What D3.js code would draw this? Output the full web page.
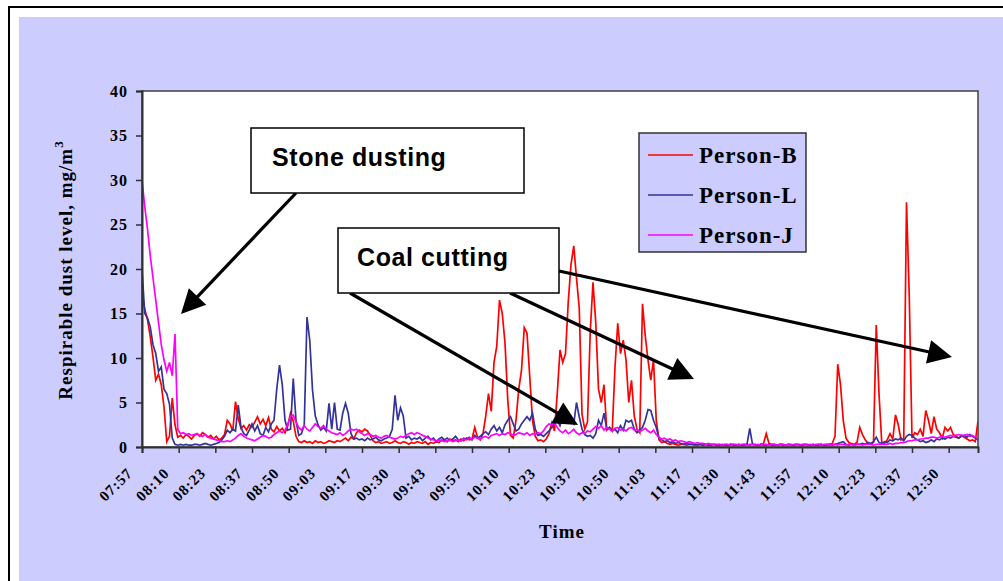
<!DOCTYPE html>
<html>
<head>
<meta charset="utf-8">
<script src="https://cdn.jsdelivr.net/npm/d3@7"></script>
<style>
  html, body { margin: 0; padding: 0; background: #ffffff; }
  svg { display: block; }
</style>
</head>
<body>
<svg id="chart" width="1003" height="581"></svg>
<script>
// Readings are logged once per minute, starting at 07:57.
const startTime = [7, 57];
const sampleMinutes = 1;

const seriesNames = ["Person-B", "Person-L", "Person-J"];
const seriesColors = ["#ff0000", "#333399", "#ff00ff"];

const personB = [
  17, 15.5, 14.3, 12.4, 10.1, 7.5, 8.2, 7, 4.5, 0.6,
  1.2, 5.5, 2.5, 1.1, 1.3, 1.0, 1.4, 1.2, 0.9, 1.3,
  1.5, 1.2, 1.6, 1.4, 1.1, 1.3, 0.9, 1.2, 0.8, 1.0,
  1.4, 3.0, 2.6, 1.8, 5.1, 3.2, 2.1, 2.4, 1.9, 2.5,
  2.2, 2.8, 3.4, 2.6, 3.1, 2.4, 3.3, 2.0, 1.7, 2.3,
  1.8, 2.1, 1.6, 2.4, 3.8, 2.9, 1.2, 0.6, 0.5, 0.7,
  0.5, 0.6, 0.4, 0.7, 0.5, 0.6, 0.4, 0.5, 0.7, 0.6,
  0.5, 0.7, 0.6, 0.8, 1.0, 0.7, 1.1, 0.9, 1.6, 1.9,
  1.7, 2.0, 1.8, 1.3, 0.7, 0.5, 0.6, 0.4, 0.5, 0.6,
  0.4, 0.5, 0.7, 0.5, 0.4, 0.6, 0.5, 0.3, 0.5, 0.4,
  0.6, 0.5, 0.4, 0.6, 0.3, 0.5, 0.4, 0.6, 0.5, 0.8,
  0.7, 0.6, 0.9, 0.7, 0.8, 0.6, 0.9, 0.7, 1.0, 0.8,
  0.9, 2.2, 1.1, 0.8, 1.5, 3.5, 6.0, 4.0, 9.5, 11.3,
  16.5, 15.0, 11.7, 5.3, 1.3, 1.0, 3.0, 6.5, 8.6, 13.4,
  12.8, 7.9, 3.0, 1.2, 0.7, 0.8, 0.6, 0.9, 1.5, 2.7,
  1.8, 6.0, 10.9, 9.5, 10.5, 16.3, 20.5, 22.6, 19.0, 15.6,
  3.7, 2.0, 2.8, 13.0, 18.5, 14.0, 6.5, 5.0, 7.0, 1.9,
  2.2, 1.8, 9.0, 13.9, 10.5, 12.0, 9.8, 5.0, 7.5, 3.5,
  2.0, 1.6, 16.1, 12.5, 9.8, 7.5, 9.8, 3.0, 0.8, 0.5,
  0.6, 0.4, 0.3, 0.4, 0.3, 0.2, 0.3, 0.3, 0.2, 0.3,
  0.3, 0.2, 0.3, 0.3, 0.2, 0.3, 0.2, 0.3, 0.3, 0.2,
  0.3, 0.2, 0.3, 0.2, 0.3, 0.3, 0.2, 0.3, 0.2, 0.3,
  0.3, 0.2, 0.3, 0.3, 0.2, 0.3, 0.4, 1.5, 0.4, 0.3,
  0.3, 0.2, 0.3, 0.3, 0.2, 0.3, 0.3, 0.2, 0.3, 0.3,
  0.2, 0.3, 0.3, 0.2, 0.3, 0.2, 0.3, 0.3, 0.2, 0.3,
  0.3, 0.4, 1.2, 9.3, 7.0, 3.0, 1.0, 0.5, 0.4, 0.3,
  0.5, 2.2, 1.4, 0.8, 0.4, 0.3, 0.5, 13.7, 6.0, 0.5,
  0.4, 0.8, 1.5, 0.9, 3.6, 2.5, 0.8, 0.9, 27.5, 17.0,
  1.0, 1.6, 1.4, 2.0, 1.2, 4.1, 3.0, 1.5, 3.4, 2.0,
  1.6, 1.0, 2.2, 1.8, 2.2, 1.4, 1.2, 1.0, 1.3, 1.1,
  0.9, 0.7, 0.8, 0.6, 2.9
];

const personL = [
  20, 15, 14.5, 13.5, 11.5, 10.5, 8.5, 9.0, 6.5, 6.0,
  4.8, 1.0, 0.3, 0.2, 0.3, 0.2, 0.3, 0.2, 0.2, 0.3,
  0.3, 0.2, 0.3, 0.4, 0.3, 0.2, 0.3, 0.4, 0.5, 0.8,
  1.2, 1.9, 1.6, 2.0, 1.8, 4.7, 2.2, 1.5, 1.3, 1.9,
  2.6, 1.8, 2.4, 1.5, 1.3, 2.2, 1.7, 2.6, 3.0, 6.5,
  9.2, 7.0, 3.0, 1.9, 2.0, 7.7, 3.0, 1.3, 1.5, 2.5,
  14.6, 12.0, 6.4, 3.5, 2.5, 1.9, 2.2, 1.8, 4.9, 2.0,
  5.0, 2.0, 1.9, 3.8, 4.9, 3.8, 1.5, 0.9, 1.0, 0.8,
  0.9, 0.7, 1.0, 0.8, 0.9, 1.1, 0.8, 0.7, 0.9, 1.0,
  1.2, 2.0, 5.8, 3.0, 4.4, 3.5, 1.0, 1.2, 0.8, 1.0,
  0.9, 1.1, 0.7, 1.0, 1.2, 0.8, 1.0, 0.6, 0.9, 1.1,
  0.8, 1.0, 0.7, 0.9, 1.2, 0.8, 0.7, 1.0, 0.9, 1.1,
  0.8, 1.3, 1.0, 1.2, 1.5, 1.7, 1.4, 2.0, 2.4, 1.8,
  2.2, 1.6, 2.5, 3.0, 3.4, 2.6, 1.8, 2.0, 2.6, 3.0,
  3.4, 3.0, 3.8, 2.0, 1.3, 1.4, 1.2, 1.5, 1.8, 2.2,
  2.6, 3.0, 2.4, 3.4, 2.8, 3.7, 3.0, 2.6, 5.0, 3.4,
  2.0, 1.4, 1.2, 1.3, 1.0, 1.5, 3.0, 2.4, 3.8, 2.0,
  2.2, 1.8, 2.0, 1.6, 2.4, 1.9, 3.0, 2.8, 3.0, 2.0,
  1.6, 1.9, 2.2, 3.0, 4.2, 4.1, 3.0, 2.2, 1.0, 0.8,
  0.6, 0.7, 0.5, 0.6, 0.4, 0.5, 0.4, 0.3, 0.4, 0.3,
  0.3, 0.3, 0.2, 0.3, 0.2, 0.3, 0.2, 0.2, 0.3, 0.2,
  0.2, 0.3, 0.2, 0.2, 0.3, 0.2, 0.2, 0.3, 0.2, 0.2,
  0.3, 2.1, 0.3, 0.2, 0.2, 0.3, 0.2, 0.2, 0.3, 0.2,
  0.2, 0.2, 0.3, 0.2, 0.2, 0.3, 0.2, 0.2, 0.3, 0.2,
  0.2, 0.3, 0.2, 0.2, 0.3, 0.2, 0.2, 0.3, 0.2, 0.2,
  0.3, 0.2, 0.3, 0.4, 0.5, 0.6, 0.3, 0.2, 0.3, 0.2,
  0.3, 0.3, 0.4, 0.3, 0.5, 0.4, 0.6, 1.1, 0.5, 0.4,
  0.6, 0.5, 0.8, 0.7, 0.9, 0.8, 1.0, 0.7, 1.2, 1.4,
  1.3, 1.0, 0.8, 0.6, 0.7, 0.5, 0.6, 0.8, 0.6, 0.9,
  0.8, 1.0, 0.9, 1.1, 1.0, 1.2, 1.1, 1.0, 1.2, 1.3,
  1.1, 1.4, 1.2, 1.0, 0.8
];

const personJ = [
  30, 27, 24.5, 21.5, 19, 16.5, 14, 11.5, 9.8, 8.5,
  9.5, 8.0, 12.7, 2.0, 1.5, 1.6, 1.4, 1.5, 1.3, 1.4,
  1.5, 1.3, 1.2, 1.4, 1.1, 1.0, 0.9, 0.8, 0.7, 0.6,
  0.6, 0.7, 0.6, 0.8, 1.0, 1.3, 1.5, 1.2, 1.0, 0.9,
  0.8, 0.7, 0.9, 1.1, 1.3, 1.2, 1.0, 1.1, 1.4, 1.6,
  1.8, 1.6, 1.9, 2.5, 3.5, 3.6, 2.8, 2.2, 1.9, 2.4,
  2.0, 1.8, 2.2, 2.6, 2.3, 2.1, 2.4, 2.0, 1.8, 1.6,
  1.5, 1.4, 1.6, 1.3, 1.5, 1.8, 2.0, 1.9, 2.0, 1.7,
  1.5, 1.3, 1.5, 1.4, 1.2, 1.3, 1.1, 1.0, 1.2, 1.3,
  1.1, 1.0, 0.9, 1.0, 1.2, 1.1, 1.3, 1.5, 1.6, 1.4,
  1.6, 1.5, 1.3, 1.2, 1.0, 0.9, 0.8, 0.7, 0.8, 0.7,
  0.6, 0.7, 0.8, 0.6, 0.7, 0.8, 0.7, 0.9, 0.8, 1.0,
  0.9, 1.1, 1.0, 0.9, 1.1, 1.2, 1.0, 1.3, 1.4, 1.5,
  1.3, 1.5, 1.4, 1.6, 1.5, 1.3, 1.4, 1.6, 1.5, 1.4,
  1.6, 1.3, 1.5, 1.4, 1.6, 1.5, 1.8, 2.3, 2.6, 2.5,
  2.7, 2.2, 1.8, 1.6, 1.9, 1.5, 1.7, 2.0, 1.6, 1.4,
  1.6, 1.5, 1.8, 1.7, 2.0, 2.3, 2.1, 2.4, 1.9, 2.2,
  2.0, 1.8, 2.1, 2.2, 1.9, 2.0, 1.8, 2.1, 2.2, 1.9,
  2.0, 1.7, 1.9, 2.1, 1.8, 1.6, 1.9, 1.4, 1.1, 0.9,
  1.0, 0.8, 0.9, 0.7, 0.8, 0.6, 0.7, 0.6, 0.5, 0.6,
  0.5, 0.4, 0.5, 0.4, 0.4, 0.3, 0.4, 0.3, 0.3, 0.3,
  0.3, 0.2, 0.3, 0.3, 0.2, 0.3, 0.3, 0.2, 0.3, 0.3,
  0.2, 0.3, 0.3, 0.2, 0.3, 0.2, 0.3, 0.3, 0.2, 0.3,
  0.3, 0.2, 0.3, 0.3, 0.2, 0.3, 0.2, 0.3, 0.3, 0.2,
  0.3, 0.3, 0.2, 0.3, 0.2, 0.3, 0.3, 0.2, 0.3, 0.3,
  0.2, 0.3, 0.3, 0.2, 0.3, 0.3, 0.2, 0.3, 0.3, 0.2,
  0.3, 0.3, 0.2, 0.3, 0.3, 0.3, 0.2, 0.3, 0.3, 0.3,
  0.3, 0.3, 0.4, 0.3, 0.4, 0.4, 0.5, 0.5, 0.6, 0.7,
  0.7, 0.8, 0.8, 0.9, 0.9, 1.0, 1.0, 1.1, 1.1, 1.0,
  1.1, 1.2, 1.1, 1.2, 1.3, 1.2, 1.3, 1.4, 1.3, 1.3,
  1.4, 1.2, 1.3, 1.1, 1.0
];

const xTickLabels = ["07:57", "08:10", "08:23", "08:37", "08:50", "09:03", "09:17", "09:30",
  "09:43", "09:57", "10:10", "10:23", "10:37", "10:50", "11:03", "11:17", "11:30", "11:43",
  "11:57", "12:10", "12:23", "12:37", "12:50"];
const xTickStepSeconds = 800;
const yTicks = [0, 5, 10, 15, 20, 25, 30, 35, 40];

const annotations = [
  { text: "Stone dusting", box: [251, 128, 524, 193], textPos: [272, 166],
    arrows: [[[296, 193], [181, 314]]] },
  { text: "Coal cutting", box: [338, 228, 559, 293], textPos: [357, 266],
    arrows: [[[350, 293], [578, 425]], [[510, 293], [694, 379]], [[559, 271], [952, 357]]] }
];

// ---- layout ----
const W = 1003, H = 581;
const plot = { left: 142, top: 91, right: 978, bottom: 447 };
const lavender = "#ccccff";

const svg = d3.select("#chart");

// Frame and chart background
svg.append("rect").attr("x", 0).attr("y", 0).attr("width", W).attr("height", H).attr("fill", "#ffffff");
svg.append("rect").attr("x", 9).attr("y", 7).attr("width", W + 20).attr("height", H + 20)
  .attr("fill", "#ffffff").attr("stroke", "#000").attr("stroke-width", 2);
svg.append("rect").attr("x", 19).attr("y", 17).attr("width", W - 19).attr("height", H - 17)
  .attr("fill", lavender);

// Scales
const t0 = new Date(2000, 0, 1, startTime[0], startTime[1], 0);
const timeAt = i => new Date(t0.getTime() + i * sampleMinutes * 60000);
const t1 = timeAt(personB.length - 1);

const x = d3.scaleTime().domain([t0, t1]).range([plot.left, plot.right]);
const y = d3.scaleLinear().domain([0, 40]).range([plot.bottom, plot.top]);

// Plot area
svg.append("rect")
  .attr("x", plot.left).attr("y", plot.top)
  .attr("width", plot.right - plot.left).attr("height", plot.bottom - plot.top)
  .attr("fill", "#ffffff").attr("stroke", "#404040").attr("stroke-width", 1.5);

svg.append("clipPath").attr("id", "plotClip").append("rect")
  .attr("x", plot.left).attr("y", plot.top - 2)
  .attr("width", plot.right - plot.left).attr("height", plot.bottom - plot.top + 2);

// Series lines
const series = [personB, personL, personJ];
const line = d3.line().x((d, i) => x(timeAt(i))).y(d => y(d));
const linesG = svg.append("g").attr("clip-path", "url(#plotClip)");
series.forEach((vals, k) => {
  linesG.append("path")
    .datum(vals)
    .attr("d", line)
    .attr("fill", "none")
    .attr("stroke", seriesColors[k])
    .attr("stroke-width", 1.7)
    .attr("stroke-linejoin", "miter");
});

// Axes
const serif = "'Liberation Serif', 'Times New Roman', serif";
const yAxis = d3.axisLeft(y).tickValues(yTicks).tickSize(6).tickPadding(8).tickFormat(d3.format("d"));
const gy = svg.append("g").attr("transform", `translate(${plot.left},0)`).call(yAxis);
gy.select(".domain").attr("stroke", "#303030").attr("stroke-width", 2);
gy.selectAll(".tick line").attr("stroke", "#303030").attr("stroke-width", 1.5);
gy.selectAll(".tick text")
  .attr("font-family", serif).attr("font-weight", "bold").attr("font-size", 16)
  .attr("letter-spacing", 1).attr("fill", "#000").attr("dy", "0.34em");

const xTickValues = xTickLabels.map((_, i) => new Date(t0.getTime() + i * xTickStepSeconds * 1000));
const xAxis = d3.axisBottom(x).tickValues(xTickValues).tickSize(6)
  .tickFormat((d, i) => xTickLabels[i]);
const gx = svg.append("g").attr("transform", `translate(0,${plot.bottom})`).call(xAxis);
gx.select(".domain").attr("stroke", "#303030").attr("stroke-width", 2);
gx.selectAll(".tick line").attr("stroke", "#303030").attr("stroke-width", 1.5);
gx.selectAll(".tick text")
  .attr("font-family", serif).attr("font-weight", "bold").attr("font-size", 15)
  .attr("letter-spacing", 1).attr("fill", "#000")
  .attr("text-anchor", "end")
  .attr("x", -9).attr("y", 27).attr("dy", 0)
  .attr("transform", "rotate(-45,-9,27)");

// Axis titles
svg.append("text")
  .attr("x", 562).attr("y", 538)
  .attr("text-anchor", "middle")
  .attr("font-family", serif).attr("font-weight", "bold").attr("font-size", 19)
  .attr("letter-spacing", 1)
  .text("Time");

const yTitle = svg.append("text")
  .attr("transform", "translate(72,270) rotate(-90)")
  .attr("text-anchor", "middle")
  .attr("font-family", serif).attr("font-weight", "bold").attr("font-size", 19)
  .attr("letter-spacing", 1);
yTitle.append("tspan").text("Respirable dust level, mg/m");
yTitle.append("tspan").attr("dy", -9).attr("font-size", 13).text("3");

// Legend
const legend = svg.append("g");
legend.append("rect").attr("x", 639).attr("y", 133).attr("width", 167).attr("height", 119)
  .attr("fill", lavender).attr("stroke", "#333").attr("stroke-width", 1.5);
seriesNames.forEach((name, k) => {
  const cy = 155 + k * 40;
  legend.append("line").attr("x1", 648).attr("x2", 693).attr("y1", cy).attr("y2", cy)
    .attr("stroke", seriesColors[k]).attr("stroke-width", 1.5);
  legend.append("text").attr("x", 699).attr("y", cy + 8)
    .attr("font-family", serif).attr("font-weight", "bold").attr("font-size", 23)
    .attr("letter-spacing", 1)
    .text(name);
});

// Annotation boxes and arrows
const sans = "'Liberation Sans', Arial, sans-serif";
const headLen = 24, headHalf = 12;
annotations.forEach(a => {
  a.arrows.forEach(([p0, p1]) => {
    const dx = p1[0] - p0[0], dy = p1[1] - p0[1];
    const len = Math.hypot(dx, dy);
    const ux = dx / len, uy = dy / len;
    const bx = p1[0] - ux * headLen, by = p1[1] - uy * headLen;
    svg.append("line")
      .attr("x1", p0[0]).attr("y1", p0[1]).attr("x2", bx + ux * 2).attr("y2", by + uy * 2)
      .attr("stroke", "#000").attr("stroke-width", 3.2);
    svg.append("path")
      .attr("d", `M${p1[0]},${p1[1]} L${bx - uy * headHalf},${by + ux * headHalf} L${bx + uy * headHalf},${by - ux * headHalf} Z`)
      .attr("fill", "#000");
  });
  const [x0, y0, x1, y1] = a.box;
  svg.append("rect").attr("x", x0).attr("y", y0).attr("width", x1 - x0).attr("height", y1 - y0)
    .attr("fill", "#fff").attr("stroke", "#000").attr("stroke-width", 1.5);
  svg.append("text").attr("x", a.textPos[0]).attr("y", a.textPos[1])
    .attr("font-family", sans).attr("font-weight", "bold").attr("font-size", 25)
    .attr("letter-spacing", 0.6)
    .text(a.text);
});
</script>
</body>
</html>
